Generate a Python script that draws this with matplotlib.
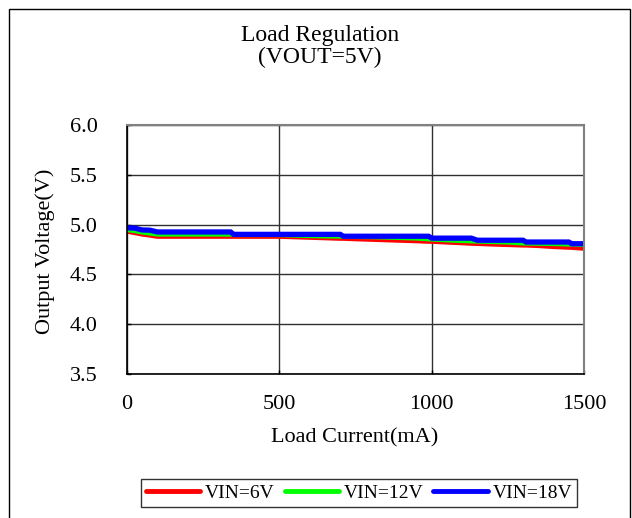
import matplotlib
matplotlib.use("Agg")
import matplotlib.pyplot as plt
from matplotlib.patches import Rectangle

# Data
current_ma = [0, 25, 50, 75, 100, 150, 200, 250, 300, 340, 350, 400, 450, 500,
              550, 600, 650, 700, 710, 750, 800, 850, 900, 950, 990, 1000, 1050,
              1100, 1130, 1150, 1200, 1250, 1300, 1310, 1350, 1400, 1450, 1460, 1500]
vout_6v = [4.93, 4.915, 4.90, 4.89, 4.878, 4.878, 4.878, 4.878, 4.878, 4.878, 4.878,
           4.878, 4.878, 4.878, 4.873, 4.868, 4.863, 4.858, 4.858, 4.853, 4.848,
           4.843, 4.838, 4.833, 4.828, 4.828, 4.82, 4.813, 4.808, 4.806, 4.80,
           4.795, 4.79, 4.79, 4.785, 4.775, 4.768, 4.767, 4.758]
vout_12v = [4.945, 4.935, 4.92, 4.91, 4.90, 4.90, 4.90, 4.90, 4.90, 4.90, 4.895,
            4.895, 4.895, 4.895, 4.89, 4.885, 4.882, 4.88, 4.878, 4.876, 4.874,
            4.87, 4.865, 4.86, 4.852, 4.85, 4.842, 4.835, 4.832, 4.83, 4.825,
            4.82, 4.81, 4.81, 4.808, 4.805, 4.80, 4.80, 4.795]
vout_18v = [4.968, 4.965, 4.946, 4.944, 4.926, 4.926, 4.926, 4.926, 4.926, 4.926,
            4.902, 4.902, 4.902, 4.902, 4.902, 4.902, 4.902, 4.902, 4.883, 4.883,
            4.883, 4.883, 4.883, 4.883, 4.883, 4.864, 4.864, 4.864, 4.864, 4.843,
            4.843, 4.843, 4.843, 4.825, 4.825, 4.825, 4.825, 4.808, 4.808]

series_labels = ["VIN=6V", "VIN=12V", "VIN=18V"]
series_colors = ["#ff0000", "#00ff00", "#0000ff"]
x_ticks = [0, 500, 1000, 1500]
y_ticks = [3.5, 4.0, 4.5, 5.0, 5.5, 6.0]

FONT = "Liberation Serif"
FS = 16
W, H = 632, 518

plt.rcParams["font.family"] = [FONT, "DejaVu Sans"]

fig = plt.figure(figsize=(W / 100, H / 100), dpi=100)
fig.patch.set_facecolor("white")

# outer frame (bottom edge runs off the image)
fig.patches.append(Rectangle((9 / W, -0.02), 621 / W, 1.02 - 9 / H,
                             transform=fig.transFigure, fill=False,
                             edgecolor="black", linewidth=1.0))

ax = fig.add_axes([127 / W, 1 - 374 / H, 457 / W, 249 / H])

for vals, lab, col, lw in zip([vout_6v, vout_12v, vout_18v], series_labels,
                              series_colors, [3.0, 3.0, 3.8]):
    ax.plot(current_ma, vals, color=col, linewidth=lw, label=lab,
            solid_capstyle="butt", solid_joinstyle="miter")

ax.set_xlim(0, 1500)
ax.set_ylim(3.5, 6.0)
ax.set_xticks(x_ticks)
ax.set_yticks(y_ticks)
ax.set_yticklabels([f"{v:.1f}" for v in y_ticks])
ax.grid(True, color="#303030", linewidth=1.0)
ax.tick_params(direction="in", length=3, width=1, labelsize=FS)
ax.tick_params(axis="y", pad=21)
ax.tick_params(axis="x", pad=15)
for side in ["left", "bottom"]:
    ax.spines[side].set_color("black")
    ax.spines[side].set_linewidth(1.2)
for side in ["top", "right"]:
    ax.spines[side].set_color("#808080")
    ax.spines[side].set_linewidth(1.5)

fig.text(320 / W, 1 - 35 / H, "Load Regulation", ha="center", va="center", fontsize=FS + 1)
fig.text(320 / W, 1 - 57 / H, "(VOUT=5V)", ha="center", va="center", fontsize=FS + 1)
fig.text(45 / W, 1 - 251 / H, "Output Voltage(V)", ha="center", va="center",
         rotation=90, fontsize=FS)
fig.text(355 / W, 1 - 438 / H, "Load Current(mA)", ha="center", va="center", fontsize=FS)

leg = ax.legend(loc="center", bbox_to_anchor=(359 / W, 1 - 493 / H),
                bbox_transform=fig.transFigure, ncol=3, fontsize=14,
                frameon=True, fancybox=False, shadow=False,
                handlelength=2.8, handletextpad=0.25, columnspacing=0.5,
                borderpad=0.25, borderaxespad=0)
leg.get_frame().set_edgecolor("black")
leg.get_frame().set_linewidth(1.0)
for line in leg.get_lines():
    line.set_linewidth(3.5)
    line.set_solid_capstyle("round")

fig.savefig("out.png", dpi=100, facecolor="white")
